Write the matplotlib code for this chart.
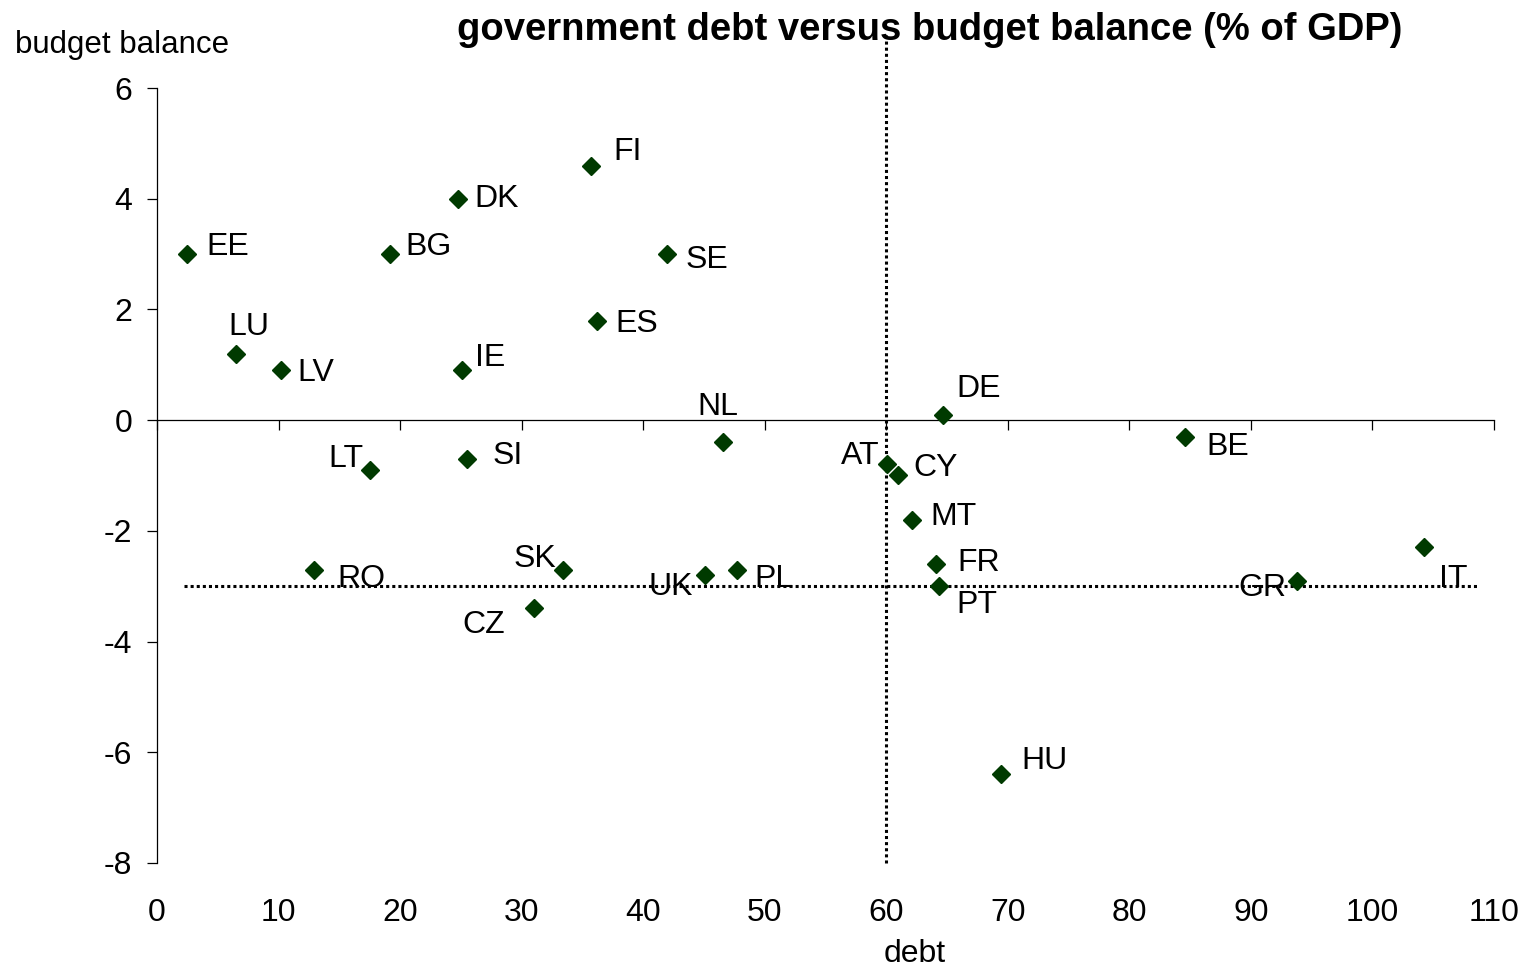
import matplotlib
matplotlib.use("Agg")
import matplotlib.pyplot as plt

plt.rcParams['font.family'] = ['Liberation Sans', 'DejaVu Sans']

countries = ["EE", "LU", "LV", "BG", "DK", "IE", "FI", "SE", "ES", "NL", "DE", "BE",
             "AT", "CY", "MT", "FR", "PT", "HU", "IT", "GR", "LT", "SI", "RO", "SK",
             "CZ", "UK", "PL"]
debt = [2.5, 6.5, 10.2, 19.2, 24.8, 25.1, 35.7, 42.0, 36.2, 46.6, 64.7, 84.6,
        60.1, 61.0, 62.1, 64.1, 64.3, 69.4, 104.2, 93.8, 17.5, 25.5, 12.9, 33.4,
        31.0, 45.1, 47.7]
balance = [3.0, 1.2, 0.9, 3.0, 4.0, 0.9, 4.6, 3.0, 1.8, -0.4, 0.1, -0.3,
           -0.8, -1.0, -1.8, -2.6, -3.0, -6.4, -2.3, -2.9, -0.9, -0.7, -2.7, -2.7,
           -3.4, -2.8, -2.7]

debt_ref = 60
debt_ref_span = [-8, 7]
deficit_ref = -3
deficit_ref_span = [2.2, 108.8]

x_ticks = list(range(0, 111, 10))
y_ticks = list(range(-8, 7, 2))

# label placement (pixel offsets, alignment)
label_style = {
    "EE": (19, 9, "left"), "LU": (13, 29, "center"), "LV": (16, -1, "left"),
    "BG": (15, 9, "left"), "DK": (16, 2, "left"), "IE": (13, 14, "left"),
    "FI": (22, 15, "left"), "SE": (18, -4, "left"), "ES": (18, -2, "left"),
    "NL": (-6, 37, "center"), "DE": (13, 28, "left"), "BE": (21, -8, "left"),
    "AT": (-8, 10, "right"), "CY": (15, 9, "left"), "MT": (19, 5, "left"),
    "FR": (21, 3, "left"), "PT": (18, -17, "left"), "HU": (21, 15, "left"),
    "IT": (15, -30, "left"), "GR": (-11, -5, "right"), "LT": (-6, 13, "right"),
    "SI": (26, 5, "left"), "RO": (24, -7, "left"), "SK": (-7, 13, "right"),
    "CZ": (-29, -15, "right"), "UK": (-12, -10, "right"), "PL": (18, -7, "left"),
}

W, H = 1527, 966
fig = plt.figure(figsize=(W / 100, H / 100), dpi=100)
ax = fig.add_axes([157 / W, 1 - 863 / H, (1494 - 157) / W, (863 - 88) / H])

FS = 23
ax.set_xlim(0, 110)
ax.set_ylim(-8, 6)

ax.plot([debt_ref, debt_ref], debt_ref_span, color='black', lw=2.2,
        linestyle=(0, (1, 1)), clip_on=False, zorder=2)
ax.plot(deficit_ref_span, [deficit_ref, deficit_ref], color='black', lw=2.2,
        linestyle=(0, (1, 1)), clip_on=False, zorder=2)

ax.plot(debt, balance, linestyle='none', marker='D', markersize=9,
        color='#003a00', zorder=4, clip_on=False)

for c, x, y in zip(countries, debt, balance):
    dx, dy, ha = label_style[c]
    ax.annotate(c, (x, y), xytext=(dx, dy - 2), textcoords='offset pixels',
                ha=ha, va='center', fontsize=FS, color='black', zorder=5)

for s in ['top', 'right']:
    ax.spines[s].set_visible(False)
ax.spines['bottom'].set_position(('data', 0))
ax.spines['left'].set_linewidth(0.9)
ax.spines['bottom'].set_linewidth(0.9)

ax.set_xticks(x_ticks)
ax.set_yticks(y_ticks)
ax.set_yticklabels([str(v) for v in y_ticks])
ax.tick_params(axis='x', direction='out', length=7, width=0.9, labelbottom=False)
ax.tick_params(axis='y', direction='out', length=7, width=0.9, labelsize=FS, pad=11)

sec = ax.secondary_xaxis('bottom')
sec.spines['bottom'].set_visible(False)
sec.set_xticks(x_ticks)
sec.set_xticklabels([str(v) for v in x_ticks])
sec.tick_params(length=0, labelsize=FS, pad=25)

fig.text(930 / W, 1 - 30 / H, "government debt versus budget balance (% of GDP)",
         ha='center', va='center', fontsize=27.5, fontweight='bold')
fig.text(15 / W, 1 - 45 / H, "budget balance", ha='left', va='center', fontsize=22.5)
fig.text(915 / W, 1 - 954 / H, "debt", ha='center', va='center', fontsize=23)

fig.savefig("out.png", dpi=100)
